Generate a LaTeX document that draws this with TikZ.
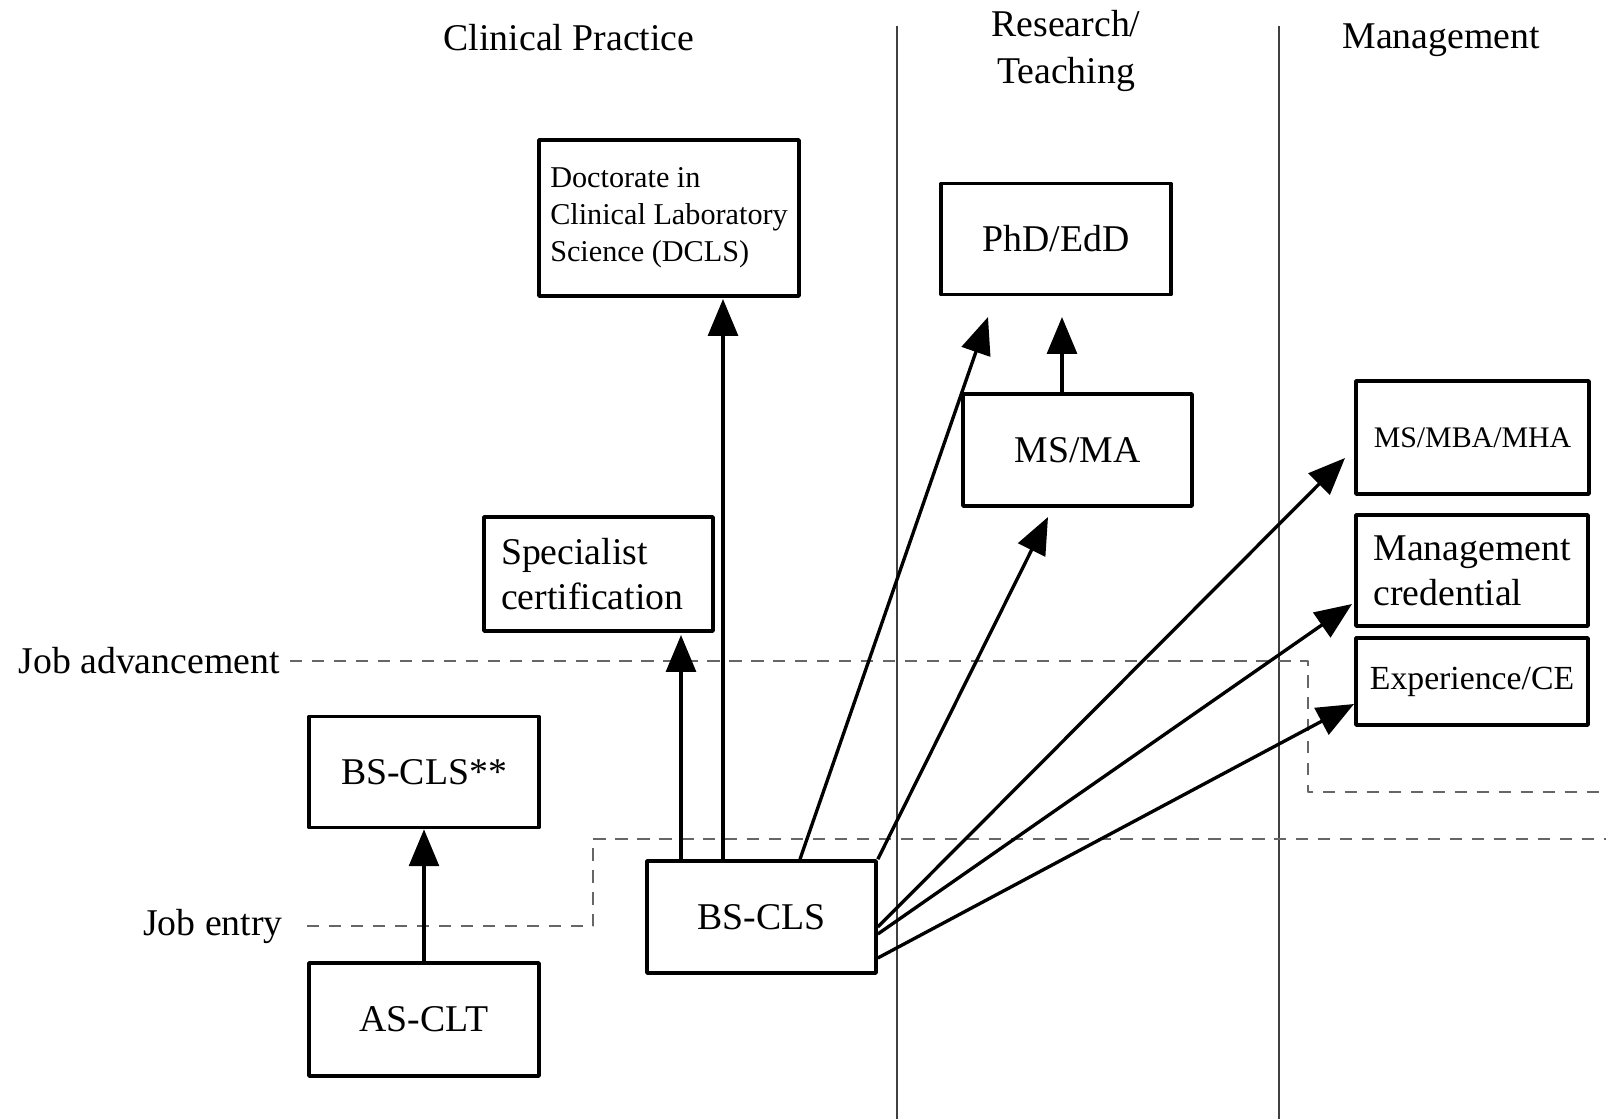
\documentclass[tikz,border=0pt]{standalone}
\usepackage{fontspec}
\setmainfont{Liberation Serif}
\usetikzlibrary{arrows.meta}
\usetikzlibrary{positioning}

\tikzset{
  box/.style={draw,line width=2.1pt,inner sep=0pt,minimum width=4.6cm,minimum height=2.22cm,font=\fontsize{21.5}{25.5}\selectfont},
  lbl/.style={inner sep=0pt,font=\fontsize{21.5}{27}\selectfont},
  arr/.style={line width=1.9pt,-{Triangle[length=21pt,width=17pt]}},
  lvl/.style={draw=black!60,line width=0.9pt,dash pattern=on 7pt off 5.5pt},
  divider/.style={line width=0.6pt,black!75}
}

\begin{document}
\begin{tikzpicture}[x=0.02cm,y=-0.02cm,line join=round]
        \useasboundingbox (0,0) rectangle (1606,1119);
        % columns
        \draw[divider] (897,26) -- (897,1119);
        \draw[divider] (1279,26) -- (1279,1119);
        \node[lbl] (clin) at (569,38) {Clinical Practice};
        \node[lbl,align=center] (res) at (1066,51) {Research/\\Teaching};
        \node[lbl] (mgmt) at (1441,40) {Management};
        % levels
        \node[lbl,anchor=east] (jobadv) at (280,661) {Job advancement};
        \node[lbl,anchor=east] (jobent) at (283,926) {Job entry};
        \coordinate (advturn) at (1308,792);
        \coordinate (advend) at (1606,792);
        \draw[lvl,shorten <=0.2cm] (jobadv.east) -| (advturn) -- (advend);
        \coordinate (entturn) at (593,839);
        \coordinate (entend) at (1606,839);
        \draw[lvl,shorten <=0.48cm] (jobent.east) -| (entturn) -- (entend);
        % clinical practice
        \node[box,minimum width=5.2cm,minimum height=3.12cm,align=left,font=\fontsize{17.2}{21}\selectfont] (dcls) at (669,218) {Doctorate in\\Clinical Laboratory\\Science (DCLS)\\[-17pt]};
        \node[box,minimum width=4.58cm,minimum height=2.28cm,align=left] (spec) at (598.5,574) {Specialist\\certification\hspace*{0.25cm}};
        \node[box] (bsclsp) at (424,772) {BS-CLS**};
        \node[box,minimum height=2.26cm] (asclt) at (424,1019.5) {AS-CLT};
        \node[box,minimum width=4.58cm,minimum height=2.24cm] (bscls) at (761.5,917) {BS-CLS};
        % research / teaching
        \node[box] (phd) at (1056,239) {PhD/EdD};
        \node[box,minimum width=4.58cm,minimum height=2.24cm] (msma) at (1077.5,450) {MS/MA};
        % management
        \node[box,minimum width=4.66cm,minimum height=2.26cm,font=\fontsize{17}{20}\selectfont] (mba) at (1472.5,437.5) {MS/MBA/MHA};
        \node[box,minimum width=4.64cm,align=left] (mcred) at (1472,570.5) {Management\\credential};
        \node[box,minimum width=4.64cm,minimum height=1.74cm,font=\fontsize{19.2}{23}\selectfont] (expce) at (1472,681.5) {Experience/CE};
        % paths
        \draw[arr] (asclt.north) -- (bsclsp.south);
        \coordinate (specin) at (681,635);
        \draw[arr] (bscls.north -| specin) -- (specin);
        \coordinate (dclsin) at (723,299);
        \draw[arr] (bscls.north -| dclsin) -- (dclsin);
        \coordinate (phdin) at (988,317);
        \draw[arr] ([xshift=0.77cm]bscls.north) -- (phdin);
        \coordinate (msmain) at (1048,517);
        \draw[arr] (bscls.north east) -- (msmain);
        \coordinate (phdtop) at (1062,317);
        \draw[arr] (msma.north -| phdtop) -- (phdtop);
        \coordinate (mbain) at (1345,458);
        \draw[arr] ([yshift=-0.2cm]bscls.east) -- (mbain);
        \coordinate (mcredin) at (1352,604);
        \draw[arr] ([yshift=-0.34cm]bscls.east) -- (mcredin);
        \coordinate (expin) at (1354,704);
        \draw[arr] ([yshift=-0.82cm]bscls.east) -- (expin);
        %
      \end{tikzpicture}
\end{document}
